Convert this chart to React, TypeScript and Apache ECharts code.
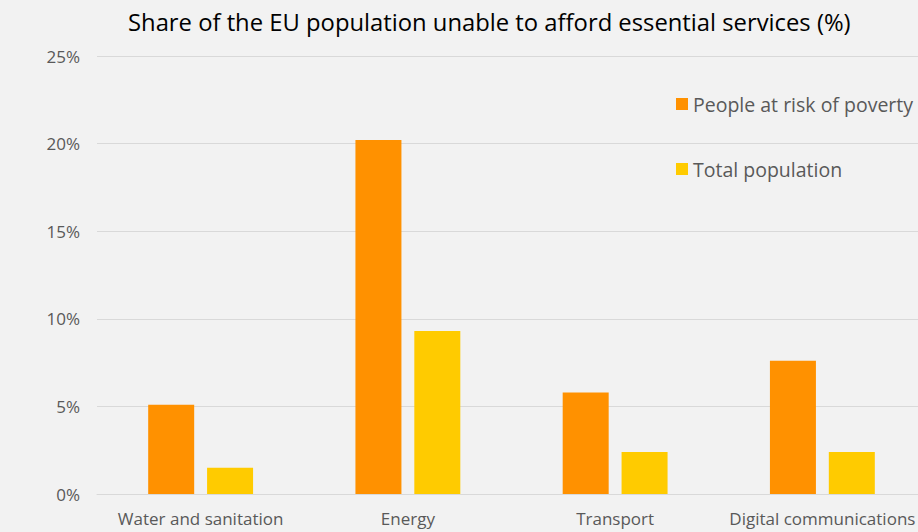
import React, { useEffect, useRef } from "react";
import * as echarts from "echarts";

const categories = ["Water and sanitation", "Energy", "Transport", "Digital communications"];
const riskOfPoverty = [5.1, 20.2, 5.8, 7.6];
const totalPopulation = [1.5, 9.3, 2.4, 2.4];
const seriesNames = ["People at risk of poverty", "Total population"];
const titleText = "Share of the EU population unable to afford essential services (%)";

export default function App() {
  const ref = useRef<HTMLDivElement>(null);
  useEffect(() => {
    if (!ref.current) return;
    const chart = echarts.init(ref.current, null, { renderer: "svg" });
    const font = "Open Sans";
    chart.setOption({
      animation: false,
      backgroundColor: "#f2f2f2",
      title: {
        text: titleText,
        left: 123,
        top: 5,
        textStyle: { fontFamily: font, fontSize: 23.8, fontWeight: "normal", color: "#000" },
      },
      legend: {
        orient: "vertical",
        left: 671,
        top: 89,
        itemWidth: 12,
        itemHeight: 12,
        itemGap: 45,
        icon: "rect",
        textStyle: { fontFamily: font, fontSize: 19.5, color: "#595959" },
        data: seriesNames,
      },
      grid: { left: 97, width: 829, top: 56, bottom: 38, containLabel: false },
      xAxis: {
        type: "category",
        data: categories,
        axisLine: { show: true, lineStyle: { color: "#d9d9d9", width: 1 } },
        axisTick: { show: false },
        axisLabel: { interval: 0, fontFamily: font, fontSize: 17, color: "#595959", margin: 16 },
      },
      yAxis: {
        type: "value",
        min: 0,
        max: 25,
        interval: 5,
        axisLine: { show: false },
        axisTick: { show: false },
        splitLine: { lineStyle: { color: "#d9d9d9", width: 1 } },
        axisLabel: { fontFamily: font, fontSize: 17, color: "#595959", formatter: "{value}%", margin: 17 },
      },
      series: [
        {
          name: seriesNames[0],
          type: "bar",
          data: riskOfPoverty,
          barWidth: 46,
          barGap: "28%",
          itemStyle: { color: "#ff9100" },
        },
        {
          name: seriesNames[1],
          type: "bar",
          data: totalPopulation,
          barWidth: 46,
          itemStyle: { color: "#ffcb00" },
        },
      ],
    });
    return () => chart.dispose();
  }, []);
  return (
    <div
      style={{ position: "fixed", left: 0, top: 0, width: 918, height: 532, overflow: "hidden", background: "#f2f2f2" }}
    >
      <div ref={ref} style={{ width: 940, height: 532 }} />
    </div>
  );
}
